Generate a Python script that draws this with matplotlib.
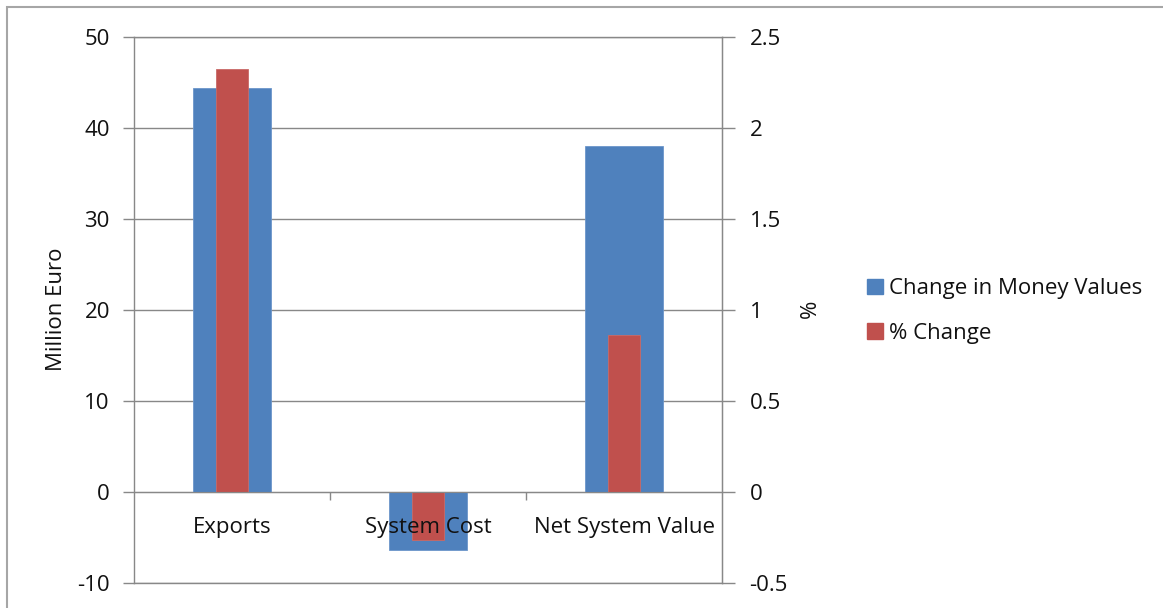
import matplotlib
matplotlib.use("Agg")
import matplotlib.pyplot as plt
from matplotlib.patches import Rectangle, Patch

categories = ["Exports", "System Cost", "Net System Value"]
money_values = [44.4, -6.3, 38.0]          # Million Euro
pct_change = [2.32, -0.26, 0.865]           # %
left_ticks = [-10, 0, 10, 20, 30, 40, 50]
right_ticks = [-0.5, 0, 0.5, 1, 1.5, 2, 2.5]
right_tick_labels = ["-0.5", "0", "0.5", "1", "1.5", "2", "2.5"]

BLUE = "#4F81BD"
RED = "#C0504D"
GRAY = "#888888"
FONT = "Open Sans"
FS = 16
TXT = "#111111"

plt.rcParams["font.family"] = [FONT, "DejaVu Sans"]

W, H = 1163, 608
fig = plt.figure(figsize=(W / 100, H / 100), dpi=100)
fig.patch.set_facecolor("white")

# outer chart border
fig.add_artist(Rectangle((7 / W, -0.05), 1.2, 1.05 - 7 / H, transform=fig.transFigure,
                         fill=False, edgecolor="#A6A6A6", linewidth=1.5, clip_on=False))

left, right = 134 / W, 722 / W
bottom, top = (H - 583.3) / H, (H - 36.7) / H
ax = fig.add_axes([left, bottom, right - left, top - bottom])
ax2 = ax.twinx()

x = list(range(len(categories)))
ax.bar(x, money_values, width=0.394, color=BLUE, edgecolor="#6C96CB", linewidth=0.6, zorder=1)
ax2.bar(x, pct_change, width=0.166, color=RED, edgecolor="#C96A67", linewidth=0.6, zorder=1)

ax.set_xlim(-0.5, 2.5)
ax.set_ylim(-10, 50)
ax2.set_ylim(-0.5, 2.5)

ax.set_axisbelow(True)
ax.set_yticks(left_ticks)
ax.set_yticklabels([str(t) for t in left_ticks])
ax.yaxis.grid(True, color=GRAY, linewidth=1.0)
ax.tick_params(axis="y", direction="out", length=8, width=1.0, color=GRAY,
               pad=13 * 0.72, labelsize=FS, labelcolor=TXT)
for s in ["left", "right", "top", "bottom"]:
    ax.spines[s].set_color(GRAY)
    ax.spines[s].set_linewidth(1.0)

ax2.set_yticks(right_ticks)
ax2.set_yticklabels(right_tick_labels)
ax2.tick_params(axis="y", direction="out", length=9, width=1.0, color=GRAY,
                pad=15 * 0.72, labelsize=FS, labelcolor=TXT)
for s in ["left", "top"]:
    ax2.spines[s].set_visible(False)
ax2.spines["right"].set_color(GRAY)
ax2.spines["bottom"].set_visible(True)
ax2.spines["bottom"].set_position(("data", 0))
ax2.spines["bottom"].set_color(GRAY)
ax2.xaxis.set_visible(True)
ax2.set_xticks(x)
ax2.set_xticklabels(categories)
ax2.set_xticks([0.5, 1.5], minor=True)
ax2.tick_params(axis="x", which="major", length=0, pad=25 * 0.72, labelsize=FS,
                labelcolor=TXT, bottom=True, labelbottom=True)
ax2.tick_params(axis="x", which="minor", length=6, width=1.0, color=GRAY,
                direction="out", bottom=True)
# the primary axes shares the x locator; hide its own x ticks
ax.tick_params(axis="x", which="both", length=0, labelbottom=False, bottom=False)

fig.text(57 / W, 1 - 309 / H, "Million Euro", rotation=90, ha="center", va="center",
         fontsize=FS, color=TXT)
fig.text(810 / W, 1 - 309 / H, "%", rotation=90, ha="center", va="center",
         fontsize=FS, color=TXT)

handles = [Patch(facecolor=BLUE, edgecolor=BLUE), Patch(facecolor=RED, edgecolor=RED)]
fig.legend(handles, ["Change in Money Values", "% Change"], loc="center left",
           bbox_to_anchor=(847 / W, 1 - 311 / H), frameon=False, fontsize=FS,
           handlelength=0.72, handleheight=0.72, handletextpad=0.28,
           labelspacing=1.05, labelcolor=TXT)

fig.savefig("out.png", dpi=100, facecolor="white")
